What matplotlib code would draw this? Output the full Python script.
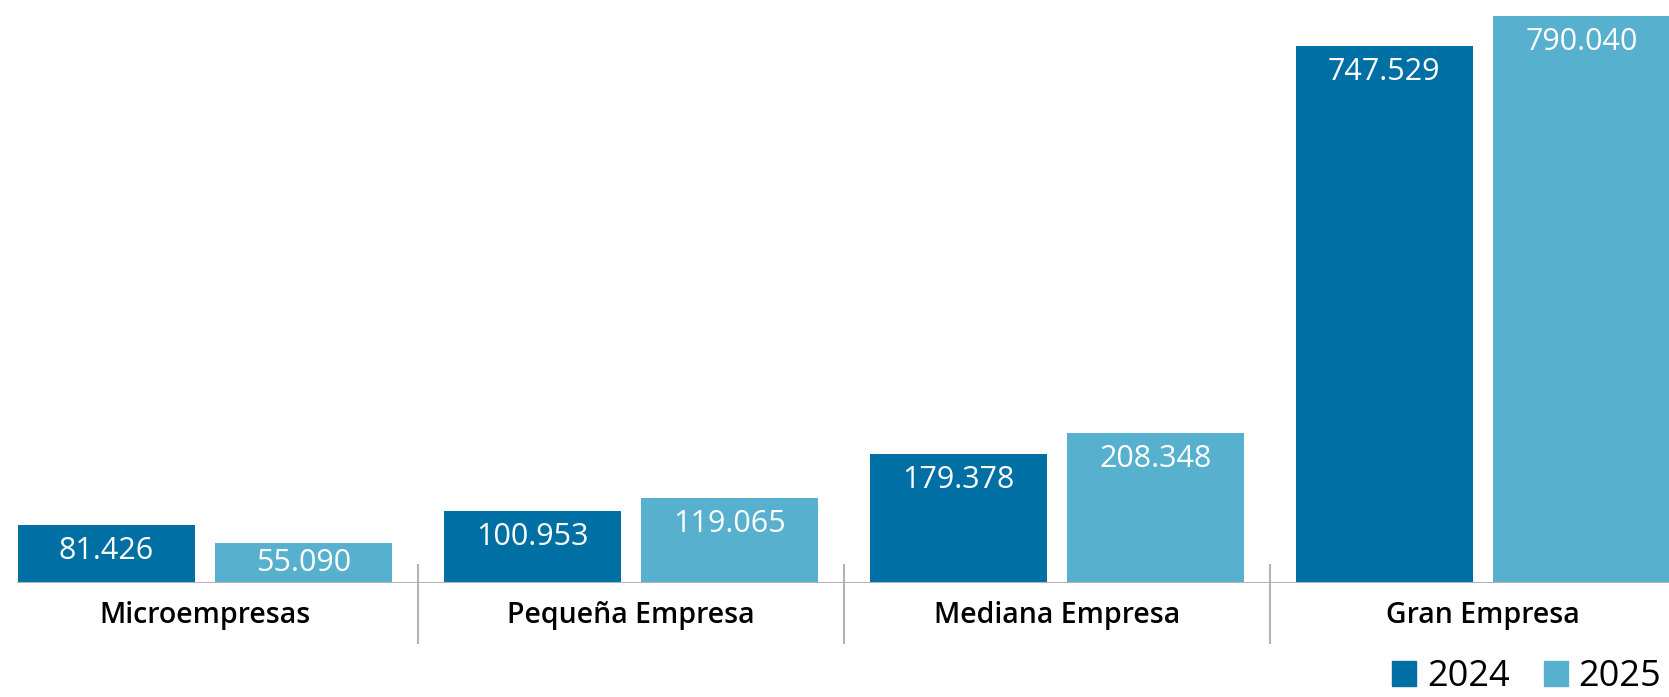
import matplotlib.pyplot as plt
from matplotlib.patches import Patch
import numpy as np

plt.rcParams['font.family'] = ['Open Sans', 'DejaVu Sans']

# datos por tamaño de empresa
categorias = ['Microempresas', 'Pequeña Empresa', 'Mediana Empresa', 'Gran Empresa']
anios = ['2024', '2025']
valores_2024 = [81426, 100953, 179378, 747529]
valores_2025 = [55090, 119065, 208348, 790040]

color_2024 = '#006FA3'
color_2025 = '#56B0CE'
gris = '#b3b3b3'

W, H = 1669, 697
fig = plt.figure(figsize=(W / 100, H / 100), dpi=100)
base_px = 583  # linea base desde arriba
ax = fig.add_axes([0, (H - base_px) / H, 1, base_px / H])

x = np.arange(len(categorias))
ancho = 0.4155
sep = 0.4624
ymax = 812300
ax.set_xlim(-0.481, 3.437)
ax.set_ylim(0, ymax)

b1 = ax.bar(x - sep / 2, valores_2024, ancho, color=color_2024)
b2 = ax.bar(x + sep / 2, valores_2025, ancho, color=color_2025)

# etiquetas de valor dentro de cada barra
px = ymax / base_px
for barras, vals in [(b1, valores_2024), (b2, valores_2025)]:
    for b, v in zip(barras, vals):
        y = max(v - 26 * px, v / 2)
        ax.text(b.get_x() + b.get_width() / 2, y, f'{v:,}'.replace(',', '.'),
                ha='center', va='center', color='white', fontsize=22,
                fontweight='medium')

# linea base y separadores
ax.axhline(0, xmin=18 / W, xmax=1, color=gris, lw=1.5)
for xs in x[:-1] + 0.5:
    ax.plot([xs, xs], [18 / base_px, -60 / base_px], color=gris, lw=1.5,
            transform=ax.get_xaxis_transform(), clip_on=False)

for xi, c in zip(x, categorias):
    ax.text(xi, -33 / base_px, c, ha='center', va='center', fontsize=20.5,
            fontweight='semibold', transform=ax.get_xaxis_transform())

ax.axis('off')

handles = [Patch(color=color_2024), Patch(color=color_2025)]
fig.legend(handles, anios, loc='lower right', bbox_to_anchor=(1.004, -0.018),
           frameon=False, ncol=2, fontsize=26, handlelength=0.66, handleheight=0.66,
           handletextpad=0.3, columnspacing=0.95, borderaxespad=0)

fig.savefig('out.png', dpi=100)
